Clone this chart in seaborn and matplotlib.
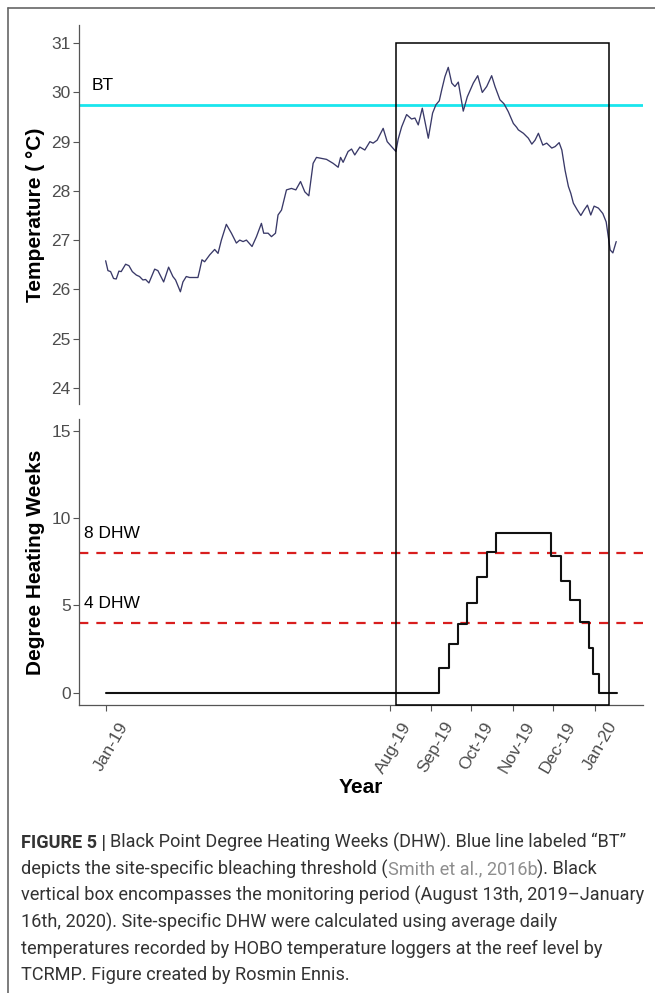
import pandas as pd
import matplotlib
matplotlib.use("Agg")
import matplotlib.pyplot as plt
import matplotlib.dates as mdates
from matplotlib.patches import Rectangle
from matplotlib.lines import Line2D
from matplotlib.transforms import (blended_transform_factory, IdentityTransform,
                                   ScaledTranslation)
import seaborn as sns

# ---------------- data ----------------
series_start = pd.Timestamp("2019-01-01")

# daily-mean reef temperature, days since 2019-01-01
temp_day = [
    0, 1.7, 3.7, 5.9, 7.9, 9.9, 11.6, 14.9, 17.4, 19.9, 22.9, 25.3, 27.8, 29.8,
    32.3, 36.6, 39.0, 43.3, 47.0, 50.2, 52.2, 55.8, 57.7, 60.2, 62.7, 68.9, 70.2,
    71.9, 73.9, 77.7, 81.4, 83.9, 86.4, 90.1, 93.9, 97.6, 100.1, 102.6, 105.1,
    109.3, 112.6, 116.3, 118.0, 121.3, 123.8, 126.8, 128.7, 131.3, 135.0, 138.7,
    142.0, 145.5, 148.7, 151.7, 154.9, 157.4, 161.2, 164.9, 169.8, 173.6, 175.4,
    177.3, 181.0, 183.6, 186.0, 189.8, 193.5, 197.3, 199.7, 202.7, 207.2, 210.2,
    213.5, 216.7, 218.4, 221.0, 224.7, 228.4, 230.9, 233.4, 236.4, 238.4, 240.9,
    244.1, 246.6, 249.1, 250.9, 253.3, 255.8, 258.4, 260.8, 263.3, 267.0, 270.0,
    274.5, 277.8, 281.2, 284.5, 288.2, 290.7, 294.4, 297.4, 300.6, 304.4, 306.9,
    308.1, 311.9, 315.6, 318.2, 320.6, 323.1, 326.4, 329.3, 333.1, 335.6, 338.6,
    340.6, 343.0, 345.5, 347.3, 349.2, 352.2, 354.8, 357.2, 359.7, 362.2, 364.7,
    367.9, 371.2, 373.7, 375.4, 376.7, 378.7, 381.2,
]
temp_c = [
    26.58, 26.38, 26.36, 26.22, 26.21, 26.37, 26.36, 26.51, 26.48, 26.36, 26.29,
    26.26, 26.19, 26.20, 26.13, 26.41, 26.38, 26.15, 26.45, 26.26, 26.19, 25.95,
    26.15, 26.26, 26.24, 26.24, 26.39, 26.60, 26.56, 26.70, 26.81, 26.73, 27.00,
    27.32, 27.14, 26.94, 27.00, 26.97, 27.00, 26.87, 27.07, 27.34, 27.14, 27.14,
    27.07, 27.14, 27.51, 27.61, 28.02, 28.05, 28.02, 28.19, 27.98, 27.90, 28.56,
    28.68, 28.66, 28.64, 28.56, 28.48, 28.68, 28.58, 28.80, 28.85, 28.73, 28.89,
    28.83, 29.00, 28.97, 29.03, 29.27, 29.00, 28.90, 28.80, 29.05, 29.30, 29.55,
    29.46, 29.48, 29.34, 29.68, 29.41, 29.07, 29.58, 29.75, 29.83, 30.05, 30.32,
    30.51, 30.19, 30.12, 30.21, 29.62, 29.91, 30.19, 30.34, 30.00, 30.12, 30.34,
    30.12, 29.85, 29.77, 29.61, 29.37, 29.29, 29.24, 29.17, 29.07, 28.95, 29.03,
    29.17, 28.93, 28.97, 28.87, 28.90, 28.98, 28.83, 28.42, 28.09, 27.95, 27.75,
    27.61, 27.50, 27.61, 27.71, 27.51, 27.69, 27.65, 27.54, 27.37, 27.04, 26.80,
    26.74, 26.97,
]

# degree heating weeks: day on which each new value starts
dhw_day = [0, 249, 256.5, 263.3, 270, 277.5, 284.5, 291.5, 332.3, 340, 347,
           354.2, 361, 363.5, 368.5, 381.5]
dhw_value = [0, 1.38, 2.80, 3.90, 5.15, 6.61, 8.04, 9.14, 7.84, 6.38, 5.29,
             4.05, 2.58, 1.07, 0, 0]

bleach_threshold = 29.75
bleach_label = "BT"
dhw_levels = [8, 4]
dhw_level_labels = ["8 DHW", "4 DHW"]

monitor_start = "2019-08-06"
monitor_end = "2020-01-12"

tick_dates = ["2019-01-01", "2019-08-01", "2019-09-01", "2019-10-01",
              "2019-11-01", "2019-12-01", "2020-01-01"]
tick_labels = ["Jan-19", "Aug-19", "Sep-19", "Oct-19", "Nov-19", "Dec-19", "Jan-20"]

temp_ticks = [24, 25, 26, 27, 28, 29, 30, 31]
dhw_ticks = [0, 5, 10, 15]

caption_lines = [
    [("FIGURE 5 |", "bold", "main"),
     (" Black Point Degree Heating Weeks (DHW). Blue line labeled \u201cBT\u201d", "normal", "main")],
    [("depicts the site-specific bleaching threshold (", "normal", "main"),
     ("Smith et al., 2016b", "normal", "cite"),
     ("). Black", "normal", "main")],
    [("vertical box encompasses the monitoring period (August 13th, 2019\u2013January", "normal", "main")],
    [("16th, 2020). Site-specific DHW were calculated using average daily", "normal", "main")],
    [("temperatures recorded by HOBO temperature loggers at the reef level by", "normal", "main")],
    [("TCRMP. Figure created by Rosmin Ennis.", "normal", "main")],
]

# ---------------- figure ----------------
W, H, DPI = 655, 993, 100
sns.set_theme(style="white")
plt.rcParams["font.family"] = ["Liberation Sans", "DejaVu Sans"]

fig = plt.figure(figsize=(W / DPI, H / DPI), dpi=DPI)
fig.patch.set_facecolor("white")


def px_axes(left, top, right, bottom):
    return fig.add_axes([left / W, 1 - bottom / H, (right - left) / W, (bottom - top) / H])


ax_t = px_axes(79, 25, 643, 404)
ax_b = px_axes(79, 419, 643, 705)
for ax in (ax_t, ax_b):
    ax.set_facecolor("none")

temp_dates = series_start + pd.to_timedelta(temp_day, unit="D")
dhw_dates = series_start + pd.to_timedelta(dhw_day, unit="D")

sns.lineplot(x=temp_dates, y=temp_c, ax=ax_t, color="#393968", lw=0.95, zorder=3)
sns.lineplot(x=dhw_dates, y=dhw_value, ax=ax_b, color="#111111", lw=1.5,
             drawstyle="steps-post", zorder=3)

xlim = (series_start + pd.Timedelta(days=-19.9), series_start + pd.Timedelta(days=401.2))
for ax in (ax_t, ax_b):
    ax.set_xlim(*xlim)

ax_t.set_ylim(23.67, 31.37)
ax_t.set_yticks(temp_ticks)
ax_b.set_ylim(-0.71, 15.66)
ax_b.set_yticks(dhw_ticks)

# reference lines
ax_t.axhline(bleach_threshold, color="#19e6ee", lw=2.0, zorder=2)
ax_t.text(series_start + pd.Timedelta(days=-10.2), 30.15, bleach_label,
          ha="left", va="center", fontsize=12.5, color="black")
for lvl, lab in zip(dhw_levels, dhw_level_labels):
    ax_b.axhline(lvl, color="#d81e1e", lw=1.6, ls=(0, (4.2, 3.6)), zorder=2)
    ax_b.text(series_start + pd.Timedelta(days=-16.2), lvl + 1.08, lab,
              ha="left", va="center", fontsize=12.5, color="black")

# axes styling
spine_col = "#555555"
sns.despine(ax=ax_t, bottom=True)
sns.despine(ax=ax_b)
for ax in (ax_t, ax_b):
    for s in ("left", "bottom"):
        ax.spines[s].set_color(spine_col)
        ax.spines[s].set_linewidth(0.9)
    ax.tick_params(axis="both", direction="out", length=4, width=0.8, color=spine_col,
                   labelcolor="#4d4d4d", labelsize=12.5, pad=2, left=True, bottom=True)
ax_t.tick_params(axis="x", bottom=False, labelbottom=False)

ax_b.set_xticks(pd.to_datetime(tick_dates))
ax_b.set_xticklabels(tick_labels, rotation=60, ha="right", va="top",
                     rotation_mode="anchor")
shift = ScaledTranslation(12 / DPI, -6 / DPI, fig.dpi_scale_trans)
for lab in ax_b.get_xticklabels():
    lab.set_transform(lab.get_transform() + shift)

ax_t.set_ylabel("Temperature ( \u00b0C)", fontsize=15, fontweight="bold", color="black")
ax_b.set_ylabel("Degree Heating Weeks", fontsize=15, fontweight="bold", color="black")
ax_b.set_xlabel("Year", fontsize=15, fontweight="bold", color="black")
ax_t.set_xlabel("")
ax_t.yaxis.set_label_coords(-0.0763, 0.5)
ax_b.yaxis.set_label_coords(-0.0763, 0.5)
for ax in (ax_t, ax_b):
    ax.yaxis.label.set_va("center")
ax_b.xaxis.label.set_va("center")
ax_b.xaxis.set_label_coords(0.5, -0.29)

# monitoring-period box spanning both panels
y_top_disp = ax_t.transData.transform((0, 31))[1]
box_h = ax_b.transAxes.inverted().transform((0, y_top_disp))[1]
x0 = mdates.date2num(pd.Timestamp(monitor_start))
x1 = mdates.date2num(pd.Timestamp(monitor_end))
ax_b.add_patch(Rectangle((x0, 0), x1 - x0, box_h,
                         transform=blended_transform_factory(ax_b.transData, ax_b.transAxes),
                         fill=False, ec="black", lw=1.1, clip_on=False, zorder=5))

# frame lines at the top and left of the figure panel
fig.add_artist(Line2D([7.5 / W, 1.0], [1 - 8 / H, 1 - 8 / H], transform=fig.transFigure,
                      color="#666666", lw=1.2))
fig.add_artist(Line2D([7.5 / W, 7.5 / W], [0, 1 - 8 / H], transform=fig.transFigure,
                      color="#666666", lw=1.2))

# ---------------- caption ----------------
cap_family = ["Roboto", "DejaVu Sans"]
cap_colors = {"main": "#333333", "cite": "#8e8e8e"}
renderer = fig.canvas.get_renderer()


def text_width(s, size, weight):
    t = fig.text(0, 0, s, fontsize=size, fontweight=weight, family=cap_family,
                 transform=IdentityTransform())
    w = t.get_window_extent(renderer).width
    t.remove()
    return w


ref_line = caption_lines[2][0][0]
cap_size = 12 * 622 / text_width(ref_line, 12, "normal")
space_w = text_width("a a", cap_size, "normal") - text_width("aa", cap_size, "normal")

baseline = H - 848
for runs in caption_lines:
    x = 21
    for txt, weight, col in runs:
        if txt.startswith(" "):
            x += space_w
        txt = txt.strip()
        t = fig.text(x, baseline, txt, fontsize=cap_size, fontweight=weight,
                     family=cap_family, color=cap_colors[col], ha="left",
                     va="baseline", transform=IdentityTransform())
        x += t.get_window_extent(renderer).width
    baseline -= 26.5

fig.savefig("out.png", dpi=DPI, facecolor="white")
